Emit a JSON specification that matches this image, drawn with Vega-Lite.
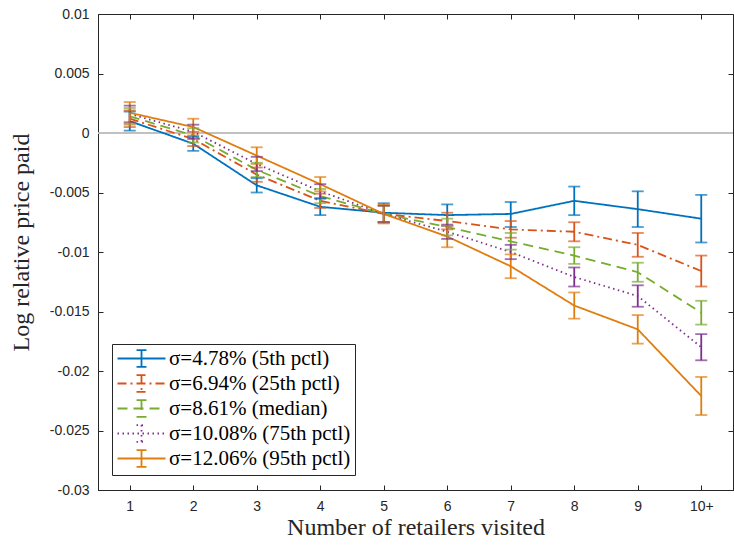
{
  "$schema": "https://vega.github.io/schema/vega-lite/v6.json",
  "width": 635,
  "height": 476,
  "autosize": {"type": "none"},
  "padding": {"left": 98, "top": 14, "right": 1, "bottom": 60},
  "background": "white",
  "config": {
    "view": {"stroke": "#262626", "strokeWidth": 1},
    "axis": {
      "grid": false,
      "domainColor": "#262626",
      "tickColor": "#262626",
      "labelColor": "#262626",
      "labelFont": "Liberation Sans",
      "labelFontSize": 14,
      "titleFont": "Liberation Serif",
      "titleFontSize": 24,
      "titleFontWeight": "normal",
      "titleColor": "#262626",
      "tickSize": -5
    }
  },
  "data": {"values": [
    {"s": "σ=4.78% (5th pctl)", "x": 1, "m": 0.0010, "lo": 0.0002, "hi": 0.0018},
    {"s": "σ=4.78% (5th pctl)", "x": 2, "m": -0.0009, "lo": -0.0015, "hi": -0.0003},
    {"s": "σ=4.78% (5th pctl)", "x": 3, "m": -0.0044, "lo": -0.0050, "hi": -0.0038},
    {"s": "σ=4.78% (5th pctl)", "x": 4, "m": -0.0062, "lo": -0.0069, "hi": -0.0055},
    {"s": "σ=4.78% (5th pctl)", "x": 5, "m": -0.0067, "lo": -0.0075, "hi": -0.0059},
    {"s": "σ=4.78% (5th pctl)", "x": 6, "m": -0.0069, "lo": -0.0078, "hi": -0.0060},
    {"s": "σ=4.78% (5th pctl)", "x": 7, "m": -0.0068, "lo": -0.0079, "hi": -0.0058},
    {"s": "σ=4.78% (5th pctl)", "x": 8, "m": -0.0057, "lo": -0.0069, "hi": -0.0045},
    {"s": "σ=4.78% (5th pctl)", "x": 9, "m": -0.0064, "lo": -0.0079, "hi": -0.0049},
    {"s": "σ=4.78% (5th pctl)", "x": 10, "m": -0.0072, "lo": -0.0092, "hi": -0.0052},
    {"s": "σ=6.94% (25th pctl)", "x": 1, "m": 0.0012, "lo": 0.0005, "hi": 0.0019},
    {"s": "σ=6.94% (25th pctl)", "x": 2, "m": -0.0005, "lo": -0.0011, "hi": 0.0001},
    {"s": "σ=6.94% (25th pctl)", "x": 3, "m": -0.0035, "lo": -0.0041, "hi": -0.0029},
    {"s": "σ=6.94% (25th pctl)", "x": 4, "m": -0.0057, "lo": -0.0063, "hi": -0.0051},
    {"s": "σ=6.94% (25th pctl)", "x": 5, "m": -0.0068, "lo": -0.0075, "hi": -0.0061},
    {"s": "σ=6.94% (25th pctl)", "x": 6, "m": -0.0074, "lo": -0.0081, "hi": -0.0067},
    {"s": "σ=6.94% (25th pctl)", "x": 7, "m": -0.0081, "lo": -0.0088, "hi": -0.0074},
    {"s": "σ=6.94% (25th pctl)", "x": 8, "m": -0.0083, "lo": -0.0091, "hi": -0.0075},
    {"s": "σ=6.94% (25th pctl)", "x": 9, "m": -0.0094, "lo": -0.0104, "hi": -0.0084},
    {"s": "σ=6.94% (25th pctl)", "x": 10, "m": -0.0116, "lo": -0.0129, "hi": -0.0103},
    {"s": "σ=8.61% (median)", "x": 1, "m": 0.0014, "lo": 0.0007, "hi": 0.0021},
    {"s": "σ=8.61% (median)", "x": 2, "m": -0.0002, "lo": -0.0008, "hi": 0.0004},
    {"s": "σ=8.61% (median)", "x": 3, "m": -0.0031, "lo": -0.0037, "hi": -0.0025},
    {"s": "σ=8.61% (median)", "x": 4, "m": -0.0053, "lo": -0.0059, "hi": -0.0047},
    {"s": "σ=8.61% (median)", "x": 5, "m": -0.0068, "lo": -0.0075, "hi": -0.0061},
    {"s": "σ=8.61% (median)", "x": 6, "m": -0.0079, "lo": -0.0086, "hi": -0.0072},
    {"s": "σ=8.61% (median)", "x": 7, "m": -0.0091, "lo": -0.0098, "hi": -0.0084},
    {"s": "σ=8.61% (median)", "x": 8, "m": -0.0103, "lo": -0.0110, "hi": -0.0096},
    {"s": "σ=8.61% (median)", "x": 9, "m": -0.0117, "lo": -0.0125, "hi": -0.0109},
    {"s": "σ=8.61% (median)", "x": 10, "m": -0.0151, "lo": -0.0161, "hi": -0.0141},
    {"s": "σ=10.08% (75th pctl)", "x": 1, "m": 0.0016, "lo": 0.0009, "hi": 0.0023},
    {"s": "σ=10.08% (75th pctl)", "x": 2, "m": 0.0001, "lo": -0.0005, "hi": 0.0007},
    {"s": "σ=10.08% (75th pctl)", "x": 3, "m": -0.0026, "lo": -0.0032, "hi": -0.0020},
    {"s": "σ=10.08% (75th pctl)", "x": 4, "m": -0.0049, "lo": -0.0055, "hi": -0.0043},
    {"s": "σ=10.08% (75th pctl)", "x": 5, "m": -0.0068, "lo": -0.0075, "hi": -0.0061},
    {"s": "σ=10.08% (75th pctl)", "x": 6, "m": -0.0083, "lo": -0.0089, "hi": -0.0077},
    {"s": "σ=10.08% (75th pctl)", "x": 7, "m": -0.0100, "lo": -0.0106, "hi": -0.0094},
    {"s": "σ=10.08% (75th pctl)", "x": 8, "m": -0.0121, "lo": -0.0129, "hi": -0.0113},
    {"s": "σ=10.08% (75th pctl)", "x": 9, "m": -0.0137, "lo": -0.0146, "hi": -0.0128},
    {"s": "σ=10.08% (75th pctl)", "x": 10, "m": -0.0180, "lo": -0.0191, "hi": -0.0169},
    {"s": "σ=12.06% (95th pctl)", "x": 1, "m": 0.0017, "lo": 0.0008, "hi": 0.0026},
    {"s": "σ=12.06% (95th pctl)", "x": 2, "m": 0.0005, "lo": -0.0002, "hi": 0.0012},
    {"s": "σ=12.06% (95th pctl)", "x": 3, "m": -0.0019, "lo": -0.0026, "hi": -0.0012},
    {"s": "σ=12.06% (95th pctl)", "x": 4, "m": -0.0043, "lo": -0.0049, "hi": -0.0037},
    {"s": "σ=12.06% (95th pctl)", "x": 5, "m": -0.0068, "lo": -0.0076, "hi": -0.0060},
    {"s": "σ=12.06% (95th pctl)", "x": 6, "m": -0.0087, "lo": -0.0096, "hi": -0.0078},
    {"s": "σ=12.06% (95th pctl)", "x": 7, "m": -0.0112, "lo": -0.0122, "hi": -0.0102},
    {"s": "σ=12.06% (95th pctl)", "x": 8, "m": -0.0145, "lo": -0.0156, "hi": -0.0134},
    {"s": "σ=12.06% (95th pctl)", "x": 9, "m": -0.0165, "lo": -0.0177, "hi": -0.0153},
    {"s": "σ=12.06% (95th pctl)", "x": 10, "m": -0.0221, "lo": -0.0237, "hi": -0.0205}
  ]},
  "layer": [
    {
      "mark": {"type": "rule", "color": "#c0c0c0", "strokeWidth": 1.3},
      "encoding": {
        "y": {"datum": 0, "type": "quantitative", "scale": {"domain": [-0.03, 0.01], "nice": false, "zero": false}, "axis": null}
      }
    },
    {
      "mark": {"type": "line", "strokeWidth": 1.8, "clip": true},
      "encoding": {
        "x": {"field": "x", "type": "quantitative",
          "scale": {"domain": [0.5, 10.5], "nice": false, "zero": false},
          "axis": {"values": [1,2,3,4,5,6,7,8,9,10], "labelExpr": "datum.value == 10 ? '10+' : toString(datum.value)", "title": "Number of retailers visited", "labelPadding": 14, "titlePadding": 2}},
        "y": {"field": "m", "type": "quantitative",
          "scale": {"domain": [-0.03, 0.01], "nice": false, "zero": false},
          "axis": {"values": [0.01, 0.005, 0, -0.005, -0.01, -0.015, -0.02, -0.025, -0.03], "labelExpr": "toString(datum.value)", "title": "Log relative price paid", "labelPadding": 14, "titlePadding": 16, "titleY": 228}},
        "color": {"field": "s", "type": "nominal",
          "sort": ["σ=4.78% (5th pctl)", "σ=6.94% (25th pctl)", "σ=8.61% (median)", "σ=10.08% (75th pctl)", "σ=12.06% (95th pctl)"],
          "scale": {"domain": ["σ=4.78% (5th pctl)", "σ=6.94% (25th pctl)", "σ=8.61% (median)", "σ=10.08% (75th pctl)", "σ=12.06% (95th pctl)"],
                    "range": ["#0072BD", "#D95319", "#77AC30", "#7E2F8E", "#DF7E0F"]},
          "legend": {"title": null, "orient": "none", "legendX": 14, "legendY": 330,
            "strokeColor": "#262626", "fillColor": "white", "padding": 4,
            "labelFont": "Liberation Serif", "labelFontSize": 21, "labelColor": "#000000", "labelOffset": 17, "labelLimit": 0,
            "symbolType": "M-3,0H3M0,-1.05V1.05M-0.62,-1.05H0.62M-0.62,1.05H0.62",
            "symbolSize": 256, "symbolOffset": 15, "symbolStrokeWidth": 1.8, "rowPadding": 0}},
        "strokeDash": {"field": "s", "type": "nominal",
          "sort": ["σ=4.78% (5th pctl)", "σ=6.94% (25th pctl)", "σ=8.61% (median)", "σ=10.08% (75th pctl)", "σ=12.06% (95th pctl)"],
          "scale": {"domain": ["σ=4.78% (5th pctl)", "σ=6.94% (25th pctl)", "σ=8.61% (median)", "σ=10.08% (75th pctl)", "σ=12.06% (95th pctl)"],
                    "range": [[1, 0], [9, 4, 2, 4], [10, 6], [1.5, 3.5], [1, 0]]},
          "legend": {"title": null, "orient": "none", "legendX": 14, "legendY": 330,
            "strokeColor": "#262626", "fillColor": "white", "padding": 4,
            "labelFont": "Liberation Serif", "labelFontSize": 21, "labelColor": "#000000", "labelOffset": 17, "labelLimit": 0,
            "symbolType": "M-3,0H3M0,-1.05V1.05M-0.62,-1.05H0.62M-0.62,1.05H0.62",
            "symbolSize": 256, "symbolOffset": 15, "symbolStrokeWidth": 1.8, "rowPadding": 0}}
      }
    },
    {
      "mark": {"type": "rule", "strokeWidth": 1.8},
      "encoding": {
        "x": {"field": "x", "type": "quantitative", "axis": null},
        "y": {"field": "lo", "type": "quantitative", "axis": null},
        "y2": {"field": "hi"},
        "color": {"field": "s", "type": "nominal", "legend": null}
      }
    },
    {
      "mark": {"type": "tick", "orient": "horizontal", "size": 12, "thickness": 1.8},
      "encoding": {
        "x": {"field": "x", "type": "quantitative", "axis": null},
        "y": {"field": "lo", "type": "quantitative", "axis": null},
        "color": {"field": "s", "type": "nominal", "legend": null}
      }
    },
    {
      "mark": {"type": "tick", "orient": "horizontal", "size": 12, "thickness": 1.8},
      "encoding": {
        "x": {"field": "x", "type": "quantitative",
          "axis": {"orient": "top", "values": [1,2,3,4,5,6,7,8,9,10], "labels": false, "title": null, "domain": false}},
        "y": {"field": "hi", "type": "quantitative",
          "axis": {"orient": "right", "values": [0.01, 0.005, 0, -0.005, -0.01, -0.015, -0.02, -0.025, -0.03], "labels": false, "title": null, "domain": false}},
        "color": {"field": "s", "type": "nominal", "legend": null}
      }
    }
  ],
  "resolve": {"axis": {"x": "independent", "y": "independent"}}
}
